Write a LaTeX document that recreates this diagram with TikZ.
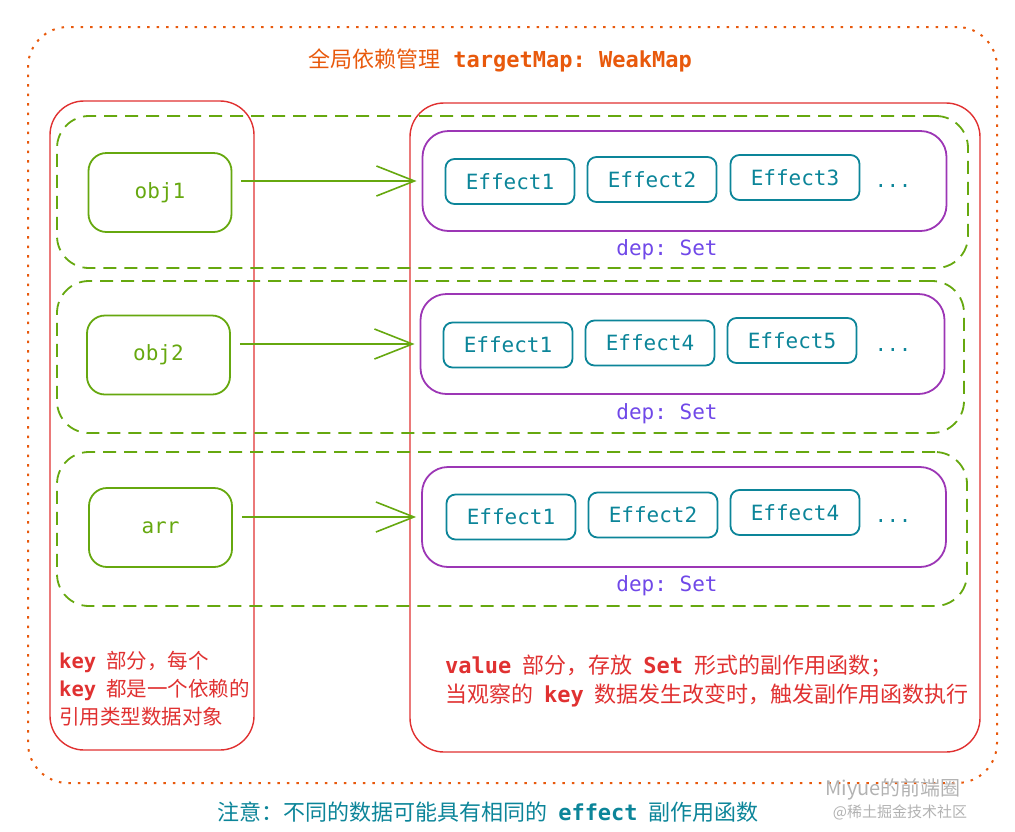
\documentclass[tikz,border=0pt]{standalone}
\usepackage{fontspec}
\setmainfont{Noto Sans CJK SC}
\setmonofont{DejaVu Sans Mono}
\usetikzlibrary{arrows.meta}

\definecolor{mapred}{HTML}{E03131}
\definecolor{maporange}{HTML}{E8590C}
\definecolor{keygreen}{HTML}{66A80F}
\definecolor{setpurple}{HTML}{9C36B5}
\definecolor{deptext}{HTML}{7048E8}
\definecolor{effteal}{HTML}{0C8599}

\begin{document}
\begin{tikzpicture}[
		x=1pt, y=-1pt,
		every node/.style={inner sep=0pt, font=\fontsize{20}{24}\selectfont},
		outer/.style={draw=maporange, line width=2pt, dash pattern=on 2.5pt off 7pt, rounded corners=40pt},
		half/.style={draw=mapred, line width=1.4pt, rounded corners=34pt},
		row/.style={draw=keygreen, line width=1.8pt, dash pattern=on 13pt off 8pt, rounded corners=32pt},
		keybox/.style={draw=keygreen, text=keygreen, line width=1.8pt, rounded corners=18pt, minimum width=143pt, minimum height=79pt, font=\fontsize{21}{24}\selectfont\ttfamily},
		setbox/.style={draw=setpurple, line width=1.8pt, rounded corners=26pt, minimum width=524pt, minimum height=100pt},
		effbox/.style={draw=effteal, text=effteal, line width=1.8pt, rounded corners=9pt, minimum width=129pt, minimum height=45pt, font=\fontsize{21}{24}\selectfont\ttfamily},
		deplabel/.style={text=deptext, font=\fontsize{21}{24}\selectfont\ttfamily},
		more/.style={text=effteal, font=\fontsize{20}{24}\selectfont\ttfamily},
		flow/.style={draw=keygreen, line width=1.8pt, -{Straight Barb[length=38pt, width=30pt, line width=1.6pt]}, shorten >=5pt, shorten <=9pt}
	]
  \useasboundingbox (0,0) rectangle (1015,831);
  \node (all) [outer, minimum width=969pt, minimum height=756pt] at (512.5,405) {};
  \node (title) [text=maporange, font=\fontsize{22}{24}\selectfont] at (500,60) {全局依赖管理\hspace{0.6em}\texttt{\bfseries targetMap: WeakMap}};
  \node (keys) [half, minimum width=204pt, minimum height=649pt] at (152,425.5) {};
  \node (values) [half, minimum width=570pt, minimum height=649pt] at (695,427.5) {};
  \node (row1) [row, minimum width=911pt, minimum height=152pt] at (512.5,192) {};
  \node (row2) [row, minimum width=907pt, minimum height=152pt] at (510.5,357) {};
  \node (row3) [row, minimum width=910pt, minimum height=154pt] at (512,529) {};
  \node (obj1) [keybox] at (160,192.5) {obj1};
  \node (obj2) [keybox] at (158.5,355) {obj2};
  \node (arr) [keybox] at (160.5,527.5) {arr};
  \node (set1) [setbox] at (684.5,181) {};
  \node (set2) [setbox] at (682.5,344) {};
  \node (set3) [setbox] at (684,517) {};
  \node (e11) [effbox] at (510,181.5) {Effect1};
  \node (e12) [effbox] at (652,179.5) {Effect2};
  \node (e13) [effbox] at (795,177.5) {Effect3};
  \node (m1) [more] at (893,186) {...};
  \node (e21) [effbox] at (508,345) {Effect1};
  \node (e22) [effbox] at (650,343) {Effect4};
  \node (e23) [effbox] at (792,340.5) {Effect5};
  \node (m2) [more] at (893,350) {...};
  \node (e31) [effbox] at (511,517) {Effect1};
  \node (e32) [effbox] at (653,515) {Effect2};
  \node (e33) [effbox] at (795,512.5) {Effect4};
  \node (m3) [more] at (893,521) {...};
  \node (dep1) [deplabel] at (667,250) {dep: Set};
  \node (dep2) [deplabel] at (667,414) {dep: Set};
  \node (dep3) [deplabel] at (667,586) {dep: Set};
  \draw [flow] (obj1.east |- set1.west) -- (set1.west);
  \draw [flow] (obj2.east |- set2.west) -- (set2.west);
  \draw [flow] (arr.east |- set3.west) -- (set3.west);
  \node (keynote) [anchor=west, align=left, text=mapred, font=\fontsize{20.5}{28}\selectfont] at (59,689) {\texttt{\bfseries key}\hspace{0.5em}部分，每个\\\texttt{\bfseries key}\hspace{0.5em}都是一个依赖的\\引用类型数据对象};
  \node (valuenote) [anchor=west, align=left, text=mapred, font=\fontsize{22}{29}\selectfont] at (445,680.5) {\texttt{\bfseries value}\hspace{0.5em}部分，存放\hspace{0.5em}\texttt{\bfseries Set}\hspace{0.5em}形式的副作用函数；\\当观察的\hspace{0.5em}\texttt{\bfseries key}\hspace{0.5em}数据发生改变时，触发副作用函数执行};
  \node (note) [text=effteal, font=\fontsize{22}{24}\selectfont] at (488,812) {注意：不同的数据可能具有相同的\hspace{0.5em}\texttt{\bfseries effect}\hspace{0.5em}副作用函数};
  \node (mark1) [text=black!30, font=\fontsize{20}{22}\selectfont] at (893,789) {Miyue的前端圈};
  \node (mark2) [text=black!30, font=\fontsize{15}{17}\selectfont] at (900,812) {@稀土掘金技术社区};
\end{tikzpicture}
\end{document}
